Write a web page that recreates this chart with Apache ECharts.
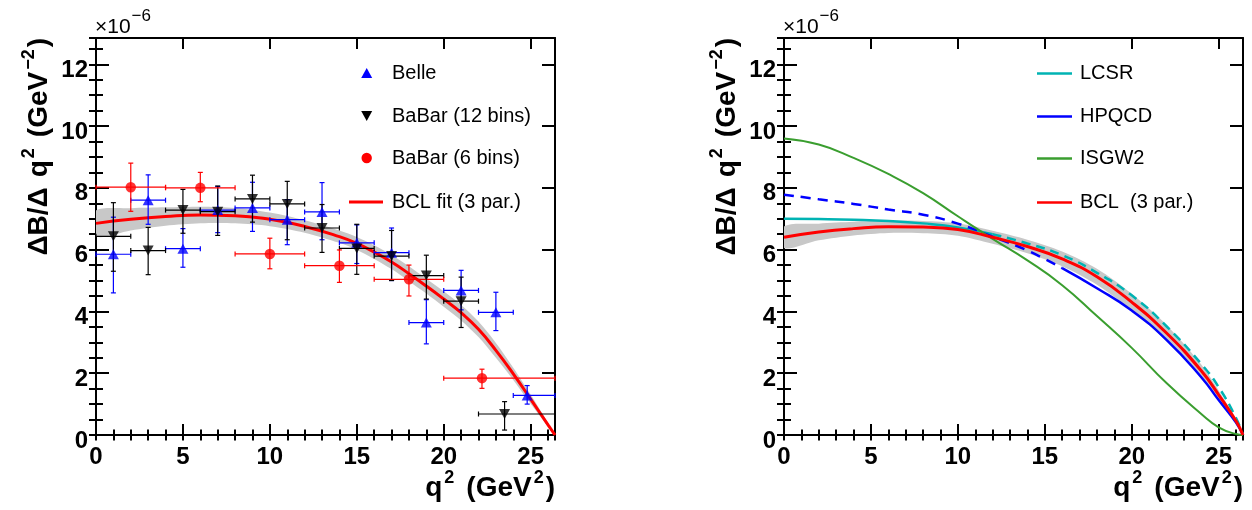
<!DOCTYPE html>
<html><head><meta charset="utf-8">
<script src="https://cdn.jsdelivr.net/npm/echarts@6/dist/echarts.min.js"></script>
<style>html,body{margin:0;padding:0;background:#fff}#c{width:1252px;height:510px}</style>
</head><body><div id="c"></div>
<script>
// ---------- DATA ----------
// rows: [q, qLow, qHigh, dB/dq2, errLow, errHigh]  (x1e-6)
const belle = [
  [1, 0, 2, 5.85, 4.6, 7.05],
  [3, 2, 4, 7.6, 6.82, 8.42],
  [5, 4, 6, 6.03, 5.43, 6.68],
  [7, 6, 8, 7.28, 6.55, 8.04],
  [9, 8, 10, 7.35, 6.59, 8.18],
  [11, 10, 12, 6.97, 6.16, 7.62],
  [13, 12, 14, 7.22, 6.32, 8.17],
  [15, 14, 16, 6.22, 5.55, 6.8],
  [17, 16, 18, 5.9, 5.0, 6.7],
  [19, 18, 20, 3.64, 2.95, 4.38],
  [21, 20, 22, 4.68, 4.05, 5.33],
  [23, 22, 24, 3.97, 3.38, 4.62],
  [24.8, 24, 26.4, 1.28, 1.0, 1.6]
];
const babar12 = [
  [1, 0, 2, 6.43, 5.3, 7.52],
  [3, 2, 4, 5.97, 5.19, 6.72],
  [5, 4, 6, 7.28, 6.53, 7.95],
  [7, 6, 8, 7.23, 6.46, 8.06],
  [9, 8, 10, 7.64, 6.89, 8.41],
  [11, 10, 12, 7.48, 6.32, 8.21],
  [13, 12, 14, 6.7, 5.91, 7.46],
  [15, 14, 16, 6.04, 5.2, 6.82],
  [17, 16, 18, 5.79, 5.0, 6.62],
  [19, 18, 20, 5.16, 4.4, 5.82],
  [21, 20, 22, 4.33, 3.48, 5.11],
  [23.5, 22, 26.4, 0.68, 0.16, 1.08]
];
const babar6 = [
  [2, 0, 4, 8.02, 7.24, 8.8],
  [6, 4, 8, 8.0, 7.55, 8.5],
  [10, 8, 12, 5.86, 5.38, 6.37],
  [14, 12, 16, 5.48, 4.94, 5.99],
  [18, 16, 20, 5.04, 4.5, 5.5],
  [22.2, 20, 26.4, 1.84, 1.51, 2.13]
];
// left: BCL fit (3 par.) with uncertainty band
const fitQ  = [0, 2, 4, 6, 8, 10, 12, 14, 15, 16, 17, 18, 19, 20, 21, 22, 23, 24, 25, 26, 26.4];
const fitB  = [6.85, 6.98, 7.07, 7.12, 7.1, 6.98, 6.75, 6.42, 6.2, 5.92, 5.6, 5.22, 4.82, 4.4, 3.96, 3.42, 2.74, 1.98, 1.16, 0.33, 0];
const fitUp = [7.27, 7.34, 7.37, 7.39, 7.35, 7.2, 6.95, 6.62, 6.41, 6.14, 5.83, 5.46, 5.06, 4.65, 4.21, 3.67, 2.98, 2.18, 1.31, 0.39, 0];
const fitLo = [6.43, 6.62, 6.77, 6.85, 6.85, 6.76, 6.55, 6.22, 5.99, 5.7, 5.37, 4.98, 4.58, 4.15, 3.71, 3.17, 2.5, 1.78, 1.01, 0.27, 0];
// right: theory curves
const thQ    = [0, 2, 4, 6, 8, 10, 12, 14, 16, 18, 20, 22, 24, 25, 26, 26.4];
const lcsr   = [7.0, 6.99, 6.97, 6.93, 6.85, 6.72, 6.5, 6.2, 5.82, 5.25, 4.52, 3.52, 2.3, 1.55, 0.55, 0];
const hpqcd  = [7.78, 7.63, 7.48, 7.3, 7.13, 6.84, 6.42, 5.97, 5.4, 4.75, 4.03, 3.08, 1.87, 1.13, 0.4, 0];
const isgw2  = [9.6, 9.4, 8.97, 8.45, 7.83, 7.08, 6.35, 5.65, 4.85, 3.85, 2.82, 1.68, 0.68, 0.25, 0.03, 0];
const bclR   = [6.4, 6.57, 6.68, 6.74, 6.73, 6.65, 6.4, 6.1, 5.7, 5.12, 4.3, 3.3, 2.08, 1.3, 0.45, 0];
const bclRUp = [6.75, 6.84, 6.9, 6.94, 6.93, 6.85, 6.61, 6.32, 5.94, 5.38, 4.57, 3.56, 2.28, 1.44, 0.5, 0];
const bclRLo = [6.05, 6.3, 6.46, 6.54, 6.53, 6.45, 6.19, 5.88, 5.46, 4.86, 4.03, 3.04, 1.88, 1.16, 0.4, 0];
const lcsrValidMax = 12;   // solid below, dashed above
const hpqcdValidMin = 16;  // dashed below, solid above
// axes
const Q_MAX = 26.4, B_MAX = 12.85;
const leftLegend = ['Belle', 'BaBar (12 bins)', 'BaBar (6 bins)', 'BCL fit (3 par.)'];
const rightLegend = ['LCSR', 'HPQCD', 'ISGW2', 'BCL  (3 par.)'];

// ---------- STYLE / LAYOUT ----------
const FF = '"Liberation Sans", Arial, Helvetica, sans-serif';
const BLUE = '#0000ff', BLACK = '#000000', RED = '#ff0000';
const CYAN = '#00b3b3', GREEN = '#3a9e2f', GRAY = '#c8c8c8';
const G = [{left: 96, top: 38, width: 459, height: 397}, {left: 784, top: 38, width: 459, height: 397}];

const chart = echarts.init(document.getElementById('c'), null, {renderer: 'canvas'});

function axesFor(gi) {
  const line = {show: true, onZero: false, lineStyle: {color: '#000', width: 2}};
  const tick = (len) => ({show: true, inside: true, length: len, lineStyle: {color: '#000', width: 2}});
  const off = {show: false};
  const common = {gridIndex: gi, type: 'value', splitLine: off, axisLabel: off, axisLine: off, silent: true};
  const xLab = {show: true, showMaxLabel: false, fontSize: 24, fontWeight: 'bold', color: '#000', fontFamily: FF, margin: 10};
  const yLab = {show: true, showMaxLabel: false, fontSize: 24, fontWeight: 'bold', color: '#000', fontFamily: FF, margin: 8,
    verticalAlign: 'top', lineHeight: 12};
  const xs = [
    {...common, min: 0, max: Q_MAX, interval: 5, position: 'bottom', axisLine: line, axisTick: tick(11), axisLabel: xLab},
    {...common, min: 0, max: Q_MAX, interval: 1, position: 'bottom', axisTick: tick(5.5)},
    {...common, min: 0, max: Q_MAX, interval: 5, position: 'top', axisLine: line, axisTick: tick(11)},
    {...common, min: 0, max: Q_MAX, interval: 1, position: 'top', axisTick: tick(5.5)}
  ];
  const ys = [
    {...common, min: 0, max: B_MAX, interval: 2, position: 'left', axisLine: line, axisTick: tick(13), axisLabel: yLab},
    {...common, min: 0, max: B_MAX, interval: 0.5, position: 'left', axisTick: tick(7)},
    {...common, min: 0, max: B_MAX, interval: 2, position: 'right', axisLine: line, axisTick: tick(13)},
    {...common, min: 0, max: B_MAX, interval: 0.5, position: 'right', axisTick: tick(7)}
  ];
  return {xs, ys};
}
const a0 = axesFor(0), a1 = axesFor(1);

function errSeries(rows, color, xi, yi) {
  return {
    type: 'custom', xAxisIndex: xi, yAxisIndex: yi, z: 3, silent: true,
    data: rows, encode: {x: [0, 1, 2], y: [3, 4, 5]},
    renderItem: (params, api) => {
      const q = api.value(0), ql = api.value(1), qh = api.value(2);
      const b = api.value(3), bl = api.value(4), bh = api.value(5);
      const L = api.coord([ql, b]), R = api.coord([qh, b]);
      const T = api.coord([q, bh]), B = api.coord([q, bl]);
      const st = {stroke: color, lineWidth: 1.2};
      const c = 2.5;
      const ln = (x1, y1, x2, y2) => ({type: 'line', shape: {x1, y1, x2, y2}, style: st});
      return {type: 'group', children: [
        ln(L[0], L[1], R[0], R[1]),
        ln(L[0], L[1] - c, L[0], L[1] + c),
        ln(R[0], R[1] - c, R[0], R[1] + c),
        ln(T[0], T[1], B[0], B[1]),
        ln(T[0] - c, T[1], T[0] + c, T[1]),
        ln(B[0] - c, B[1], B[0] + c, B[1])
      ]};
    }
  };
}
// uncertainty band: smoothed polygon between lower and upper edges
function bandSeries(qs, lo, hi, xi, yi) {
  return {
    type: 'custom', xAxisIndex: xi, yAxisIndex: yi, z: 1, silent: true, data: [[0, 0]],
    renderItem: (params, api) => {
      const pts = [];
      qs.forEach((q, i) => pts.push(api.coord([q, hi[i]])));
      for (let i = qs.length - 1; i >= 0; i--) pts.push(api.coord([qs[i], lo[i]]));
      const mn = [Infinity, Infinity], mx = [-Infinity, -Infinity];
      pts.forEach(p => { mn[0] = Math.min(mn[0], p[0]); mn[1] = Math.min(mn[1], p[1]); mx[0] = Math.max(mx[0], p[0]); mx[1] = Math.max(mx[1], p[1]); });
      return {type: 'polygon', shape: {points: pts, smooth: 0.3, smoothConstraint: [mn, mx]}, style: {fill: GRAY}};
    }
  };
}
function lineSeries(data, color, width, dash, xi, yi, z) {
  return {type: 'line', xAxisIndex: xi, yAxisIndex: yi, data, smooth: 0.5, symbol: 'none', silent: true, z: z || 2,
    lineStyle: {color, width, type: dash || 'solid'}};
}
function scatterSeries(rows, color, symbol, size, rot) {
  return {type: 'scatter', xAxisIndex: 0, yAxisIndex: 0, z: 5, silent: true,
    data: rows.map(r => [r[0], r[3]]), symbol, symbolSize: size, symbolRotate: rot || 0,
    itemStyle: {color}};
}
const pairs = (qs, vs) => qs.map((q, i) => [q, vs[i]]);

// ---------- TEXT LAYOUT HELPERS ----------
const mctx = document.createElement('canvas').getContext('2d');
function layoutSegs(list, F, S, weight) {
  let x = 0; const items = [];
  list.forEach(([t, sup, gap]) => {
    x += gap || 0;
    const size = sup ? S : F;
    mctx.font = `${weight} ${size}px ${FF}`;
    const w = mctx.measureText(t).width;
    items.push({t, x, size, sup});
    x += w;
  });
  return {items, total: x};
}
function segTexts(lay, x0, yMid, F, weight, supShift) {
  return lay.items.map(it => ({
    type: 'text', x: x0 + it.x, y: it.sup ? yMid - supShift * F : yMid, silent: true,
    style: {text: it.t, fontSize: it.size, fontWeight: weight, fontFamily: FF, fill: '#000',
      align: 'left', verticalAlign: 'middle', textAlign: 'left', textVerticalAlign: 'middle'}
  }));
}
const txt = (x, y, s, size, opts) => Object.assign({type: 'text', x, y, silent: true,
  style: {text: s, fontSize: size, fontFamily: FF, fill: '#000', align: 'left', verticalAlign: 'middle',
    textAlign: 'left', textVerticalAlign: 'middle'}}, opts || {});

const graphics = [];
// y titles
const yTitle = layoutSegs([['ΔB/Δ', 0], ['q', 0, 10], ['2', 1, 2], ['(GeV', 0, 11], ['−2', 1, 2], [')', 0, 2]], 28, 18, 'bold');
[39, 727].forEach(cx => {
  graphics.push({type: 'group', x: cx, y: 38, rotation: Math.PI / 2, silent: true,
    children: segTexts(yTitle, -yTitle.total, 0, 28, 'bold', 0.36)});
});
// x titles
const xTitle = layoutSegs([['q', 0], ['2', 1, 2], ['(GeV', 0, 12], ['2', 1, 2], [')', 0, 2]], 28, 18, 'bold');
[555, 1243].forEach(rx => {
  graphics.push({type: 'group', silent: true, children: segTexts(xTitle, rx - xTitle.total, 488, 28, 'bold', 0.34)});
});
// x10^-6
const expo = layoutSegs([['×10', 0], ['−6', 1, 1]], 21, 17, 'normal');
[95, 783].forEach(lx => {
  graphics.push({type: 'group', silent: true, children: segTexts(expo, lx, 27, 21, 'normal', 0.5)});
});
// left legend
const legY = [73, 116, 158, 202];
graphics.push({type: 'polygon', silent: true, shape: {points: [[366.7, legY[0] - 5], [361.2, legY[0] + 5], [372.2, legY[0] + 5]]}, style: {fill: BLUE}});
graphics.push({type: 'polygon', silent: true, shape: {points: [[366.7, legY[1] + 5], [361.2, legY[1] - 5], [372.2, legY[1] - 5]]}, style: {fill: BLACK}});
graphics.push({type: 'circle', silent: true, shape: {cx: 366.7, cy: legY[2], r: 5.2}, style: {fill: RED}});
graphics.push({type: 'line', silent: true, shape: {x1: 349, y1: legY[3], x2: 383, y2: legY[3]}, style: {stroke: RED, lineWidth: 3}});
leftLegend.forEach((s, i) => graphics.push(txt(392, legY[i], s, 20)));
// right legend
const rCols = [CYAN, BLUE, GREEN, RED];
rightLegend.forEach((s, i) => {
  graphics.push({type: 'line', silent: true, shape: {x1: 1037, y1: legY[i] + 0.5, x2: 1072, y2: legY[i] + 0.5}, style: {stroke: rCols[i], lineWidth: 2.5}});
  graphics.push(txt(1080, legY[i], s, 20));
});

// ---------- SERIES ----------
const series = [
  // left panel
  bandSeries(fitQ, fitLo, fitUp, 0, 0),
  lineSeries(pairs(fitQ, fitB), RED, 3, null, 0, 0, 2),
  errSeries(belle, BLUE, 0, 0),
  errSeries(babar12, BLACK, 0, 0),
  errSeries(babar6, RED, 0, 0),
  scatterSeries(belle, BLUE, 'triangle', [11, 10]),
  scatterSeries(babar12, BLACK, 'triangle', [11, 10], 180),
  scatterSeries(babar6, RED, 'circle', 10.5),
  // right panel
  bandSeries(thQ, bclRLo, bclRUp, 4, 4),
  lineSeries(pairs(thQ, lcsr).filter(p => p[0] <= lcsrValidMax), CYAN, 2.5, null, 4, 4, 2),
  lineSeries(pairs(thQ, lcsr).filter(p => p[0] >= lcsrValidMax), CYAN, 2.5, [9, 6], 4, 4, 2),
  lineSeries(pairs(thQ, hpqcd).filter(p => p[0] <= hpqcdValidMin), BLUE, 2.5, [10, 7], 4, 4, 2),
  lineSeries(pairs(thQ, hpqcd).filter(p => p[0] >= hpqcdValidMin), BLUE, 2.5, null, 4, 4, 2),
  lineSeries(pairs(thQ, isgw2), GREEN, 2, null, 4, 4, 3),
  lineSeries(pairs(thQ, bclR), RED, 3, null, 4, 4, 3)
];

chart.setOption({
  animation: false,
  backgroundColor: '#ffffff',
  grid: G.map(g => ({...g, containLabel: false})),
  xAxis: [...a0.xs, ...a1.xs],
  yAxis: [...a0.ys, ...a1.ys],
  series,
  graphic: {elements: graphics}
});
</script></body></html>
